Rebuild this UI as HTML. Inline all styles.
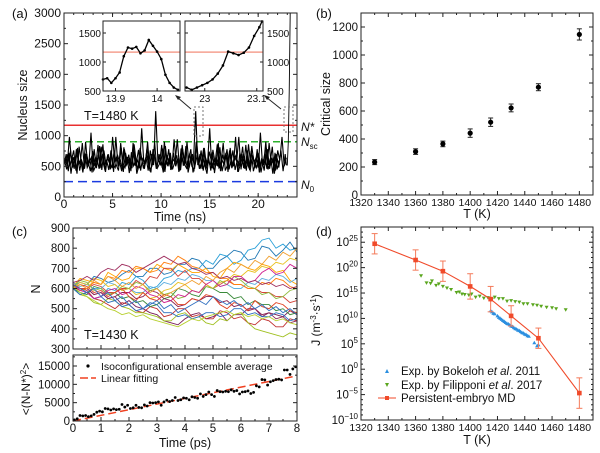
<!DOCTYPE html>
<html><head><meta charset="utf-8"><style>
body{margin:0;background:#fff}
svg{display:block;font-family:"Liberation Sans",sans-serif}
text{fill:#111}
</style></head><body>
<svg id="fig" width="600" height="453" viewBox="0 0 600 453" xmlns="http://www.w3.org/2000/svg"></svg>
<script>
// ---------- DATA ----------
const aTrace=[520,700,420,760,480,650,380,820,560,450,900,520,610,400,780,470,690,530,860,430,640,560,720,410,980,500,620,450,780,560,690,420,880,510,600,470,1120,540,650,430,760,520,880,460,700,590,400,830,510,660,470,940,560,620,440,780,530,900,480,660,580,1400,520,700,460,800,510,640,430,770,560,860,470,620,540,720,410,800,500,660,580,980,450,700,520,760,440,830,560,640,480,1050,510,700,460,880,540,620,430,760,600,980,500,640];
const aTraceB=[600,450,720,380,650,520,800,430,590,470,700,560,420,750,500,640,460,820,540,410,690,580,470,760,520,430,880,560,480,650,390,730,510,600,440,800,570,460,690,520,400,780,610,470,540,850,430,620,500,720,450,560,680,410,790,530,600,460,710,500,440,900,560,480,660,520,380,740,590,450,630,500,810,420,570,690,480,540,760,440,600,520,700,470,850,510,430,650,560,480,720,400,600,540,780,460,640,500,700,560];
const aTraceEnd=[520,900,1700,3000];
const aRefN=[1170,900,250];
const in1T=[13.87,13.88,13.89,13.9,13.91,13.92,13.93,13.94,13.95,13.96,13.97,13.98,13.99,14.0,14.01,14.02,14.03,14.04,14.05];
const in1N=[700,720,640,720,820,1100,1250,1230,1260,1150,1200,1380,1280,1180,1050,780,640,560,520];
const in2T=[22.965,22.975,22.985,22.995,23.005,23.015,23.025,23.035,23.045,23.055,23.065,23.075,23.085,23.095,23.105,23.11];
const in2N=[560,520,560,600,640,700,800,940,1180,1150,1120,1160,1250,1450,1600,1700];
const bT=[1330,1360,1380,1400,1415,1430,1450,1480];
const bN=[235,310,365,442,520,622,770,1147];
const bErr=[18,20,20,30,30,28,25,40];
const cTimes=[0,0.25,0.5,0.75,1,1.25,1.5,1.75,2,2.25,2.5,2.75,3,3.25,3.5,3.75,4,4.25,4.5,4.75,5,5.25,5.5,5.75,6,6.25,6.5,6.75,7,7.25,7.5,7.75,8];
const cS1=[610,630,620,660,650,630,640,670,690,660,660,700,700,670,680,720,720,750,740,700,700,740,760,790,780,740,750,810,800,760,790,830,780];
const cS2=[620,590,600,570,580,550,560,520,540,510,500,480,470,440,430,420,450,470,480,450,460,480,440,470,470,500,500,460,480,470,460,490,470];
const cS3=[600,570,580,550,560,600,590,630,620,660,640,600,610,650,660,690,680,700,700,740,720,770,760,720,740,790,800,840,850,800,820,790,800];
const cS4=[630,600,590,550,540,520,500,530,520,490,480,510,500,460,470,500,500,460,470,450,450,490,480,450,460,430,420,450,440,410,410,450,440];
const cS5=[610,650,640,630,620,680,660,640,650,700,700,680,720,700,690,720,700,680,680,700,660,650,700,730,720,700,690,720,710,680,690,640,620];
const cS6=[600,580,570,610,600,570,580,550,560,530,540,510,520,550,560,600,590,570,560,610,600,580,580,550,560,520,540,520,520,490,500,470,480];
const cS7=[620,600,600,620,610,580,580,600,600,640,620,660,650,700,700,660,690,650,650,620,600,620,640,620,620,600,600,580,580,560,560,530,540];
const cS8=[600,570,560,530,520,550,540,510,500,480,480,470,460,440,440,470,480,450,460,430,420,450,440,470,480,430,400,390,380,370,360,380,370];
const cS9=[630,610,620,600,600,630,620,590,600,580,580,610,600,630,620,650,640,670,660,640,640,610,620,600,600,630,620,650,640,670,660,630,650];
const cS10=[610,590,600,570,580,550,560,580,580,550,560,590,580,550,540,510,520,550,540,560,560,530,540,510,520,490,500,470,480,450,460,430,440];
const cS11=[600,630,620,650,640,610,620,590,600,570,580,550,560,590,600,630,620,590,580,620,600,630,640,670,660,690,680,710,700,730,720,750,740];
const cS12=[620,590,600,630,620,660,650,690,680,710,700,680,690,730,720,760,740,710,700,680,680,650,650,620,620,600,600,630,620,650,640,610,600];
const cS13=[600,570,580,550,560,530,540,510,520,490,500,530,520,480,480,460,470,450,460,480,480,460,470,500,500,470,480,460,460,480,470,440,450];
const cS14=[610,640,630,590,600,570,580,610,600,630,620,590,600,570,580,550,560,590,580,610,600,640,620,660,640,610,600,570,580,550,560,590,600];
const cS15=[620,590,580,550,560,590,600,570,580,610,600,570,560,530,540,570,560,590,580,620,640,610,620,660,660,630,640,680,700,670,680,720,700];
const cS16=[600,620,610,580,590,560,580,600,560,540,580,550,540,570,560,520,520,550,540,570,560,520,500,530,520,490,540,510,500,530,520,490,480];
const cS17=[610,580,560,540,520,500,490,470,480,460,470,450,440,430,420,410,430,450,440,460,470,480,490,470,480,460,470,450,460,440,450,430,420];
const cS18=[630,640,660,640,680,700,690,720,710,680,700,720,740,760,740,720,730,700,690,670,680,650,660,640,650,630,640,620,630,610,620,600,610];
const cS19=[600,620,600,640,620,660,640,610,630,600,620,580,600,560,580,600,620,640,620,660,640,680,700,680,720,700,740,720,760,740,780,760,800];
const cS20=[620,600,580,600,560,580,540,560,520,540,500,520,540,500,520,480,500,520,540,520,560,540,520,540,510,530,500,520,490,510,480,500,470];
const cSeries=[cS1,cS2,cS3,cS4,cS5,cS6,cS7,cS8,cS9,cS10,cS11,cS12,cS13,cS14,cS15,cS16,cS17,cS18,cS19,cS20];
const cColors=["#1f77b4","#7a1f5a","#2aa0d8","#c03030","#ffa500","#3a8a3a","#d4443a","#a0c020","#60b0e0","#8b2252","#e8c020","#ff7f0e","#2c6fbf","#8fbc3f","#d02090","#e04020","#b8d030","#a03060","#f0a030","#3070c0"];
const msdT=[0.05,0.15,0.25,0.35,0.45,0.55,0.65,0.75,0.85,0.95,1.05,1.15,1.25,1.35,1.45,1.55,1.65,1.75,1.85,1.95,2.05,2.15,2.25,2.35,2.45,2.55,2.65,2.75,2.85,2.95,3.05,3.15,3.25,3.35,3.45,3.55,3.65,3.75,3.85,3.95,4.05,4.15,4.25,4.35,4.45,4.55,4.65,4.75,4.85,4.95,5.05,5.15,5.25,5.35,5.45,5.55,5.65,5.75,5.85,5.95,6.05,6.15,6.25,6.35,6.45,6.55,6.65,6.75,6.85,6.95,7.05,7.15,7.25,7.35,7.45,7.55,7.65,7.75,7.85,7.95];
const msdV=[300,600,1500,1400,1500,1200,1400,1800,2400,2700,2500,3400,3300,3000,3300,3100,3200,4500,3800,4300,3400,3600,4300,3700,3600,4400,4100,5000,4900,5000,5200,4300,5200,5700,5300,5600,6400,5600,5800,6300,6200,5800,6600,6400,6200,7400,6700,7200,7900,7200,6700,8300,8000,7900,8100,8000,8500,8100,8300,7400,7900,8000,8200,7500,7800,9600,9300,11300,11200,9800,10700,11000,11300,11400,11200,13900,13900,12700,14200,14800];
const fitSlope=1540;
const mdT=[1330,1360,1380,1400,1415,1430,1450,1480];
const mdLogJ=[24.7,21.5,19.3,16.3,13.8,10.5,6.1,-4.7];
const mdErr=[2,2,2,2.5,2.5,2,2,3];
const filT=[1364,1368,1371,1372,1375,1377,1380,1383,1386,1390,1392,1394,1396,1399,1401,1404,1407,1410,1413,1416,1418,1421,1424,1427,1430,1433,1436,1439,1442,1446,1449,1452,1456,1460,1463,1470];
const filLogJ=[18.4,17.0,16.9,17.4,16.5,16.8,16.3,16.0,15.7,15.1,15.2,14.8,14.7,14.6,14.8,14.2,14.4,14.0,14.1,13.8,14.2,13.9,13.9,13.4,13.5,13.3,13.2,12.9,12.9,12.7,12.6,12.4,12.2,12.1,11.9,11.7];
const bokT=[1415,1416,1417,1418,1420,1421,1422,1423,1424,1425,1426,1427,1428,1429,1430,1431,1432,1433,1434,1435,1436,1437,1438,1439,1440,1441,1442,1443,1447,1449,1450];
const bokLogJ=[11.5,11.3,11.0,10.9,10.5,10.2,10.0,9.8,9.6,9.4,9.2,9.0,8.9,8.7,8.5,8.4,8.2,8.0,7.9,7.7,7.6,7.4,7.2,7.1,6.9,6.8,6.6,6.5,5.2,4.6,4.8];

// ---------- helpers ----------
const NS="http://www.w3.org/2000/svg";const svg=document.getElementById('fig');
function mk(tag,at,parent){const e=document.createElementNS(NS,tag);for(const k in at)e.setAttribute(k,at[k]);(parent||svg).appendChild(e);return e;}
function txt(s,x,y,size,anchor,parent){const t=mk('text',{x:x,y:y,'font-size':size,'text-anchor':anchor||'middle'},parent);t.textContent=s;return t;}
function lin(d0,d1,r0,r1){return v=>r0+(v-d0)/(d1-d0)*(r1-r0);}
function frame(x0,y0,x1,y1,name){const r=mk('rect',{x:x0,y:y0,width:x1-x0,height:y1-y0,fill:'none',stroke:'#222','stroke-width':1});}
function xticks(sx,vals,y0,y1,labels,size,minor,g){vals.forEach((v,i)=>{const x=sx(v);mk('line',{x1:x,x2:x,y1:y1,y2:y1-4,stroke:'#222'},g);mk('line',{x1:x,x2:x,y1:y0,y2:y0+4,stroke:'#222'},g);if(labels)txt(labels[i],x,y1+11,size||12,'middle',g);});(minor||[]).forEach(v=>{const x=sx(v);mk('line',{x1:x,x2:x,y1:y1,y2:y1-2,stroke:'#222'},g);mk('line',{x1:x,x2:x,y1:y0,y2:y0+2,stroke:'#222'},g);});}
function yticks(sy,vals,x0,x1,labels,size,minor,g,right){vals.forEach((v,i)=>{const y=sy(v);mk('line',{x1:x0,x2:x0+4,y1:y,y2:y,stroke:'#222'},g);mk('line',{x1:x1,x2:x1-4,y1:y,y2:y,stroke:'#222'},g);if(labels){if(right)txt(labels[i],x1+3,y+4,size||12,'start',g);else txt(labels[i],x0-3,y+4,size||12,'end',g);}});(minor||[]).forEach(v=>{const y=sy(v);mk('line',{x1:x0,x2:x0+2,y1:y,y2:y,stroke:'#222'},g);mk('line',{x1:x1,x2:x1-2,y1:y,y2:y,stroke:'#222'},g);});}
function range(a,b,s){const r=[];for(let v=a;v<=b+1e-9;v+=s)r.push(+v.toFixed(6));return r;}
function poly(xs,ys,sx,sy,at,g){return mk('polyline',Object.assign({points:xs.map((x,i)=>sx(x).toFixed(1)+','+sy(ys[i]).toFixed(1)).join(' '),fill:'none'},at),g);}

[["(a)",12,18],["(b)",316,18],["(c)",12,236],["(d)",316,236]].forEach(p=>{const t=txt(p[0],p[1],p[2],13,'start');});

// ---------- (a) ----------
{const g=mk('g',{});
const sx=lin(0,24,64,297),sy=lin(0,3000,197,13);
const refCol=["#e83030","#2cb02c","#1a3ae0"],dash=["","7,4","9,5"];
aRefN.forEach((n,i)=>{const l=mk('line',{x1:64,x2:297,y1:sy(n),y2:sy(n),stroke:refCol[i],'stroke-width':1.5,'stroke-dasharray':dash[i]},g);});
const n=aTrace.length;
const tt=aTrace.map((v,i)=>i*22.9/(n-1));
const layers=[[aTrace,0],[aTraceB,0.055],[aTrace.slice().reverse(),0.11],[aTraceB.slice().reverse(),0.165]];
layers.forEach((L,k)=>{const p=poly(tt.map(t=>Math.min(22.9,t+L[1])),L[0],sx,sy,{stroke:'#000','stroke-width':1.1},g);});
const tr=poly([22.9,23.0,23.1,23.2,23.3],[520].concat(aTraceEnd),sx,sy,{stroke:'#000','stroke-width':0.9},g);

frame(64,13,297,197,'panel-a-frame');
xticks(sx,[0,5,10,15,20],13,197,["0","5","10","15","20"],12,range(1,24,1),g);
yticks(sy,range(0,3000,500),64,297,["0","500","1000","1500","2000","2500","3000"],12,range(250,2750,500),g);
const xt=txt("Time (ns)",180,221,12.5);
const yt=txt("Nucleus size",0,0,12.5);yt.setAttribute('transform','translate(27,105) rotate(-90)');
txt("T=1480 K",84,120,12.5,'start',g);
const nl=[["N*"],["N","sc"],["N","0"]];
nl.forEach((nn,i)=>{const t=mk('text',{x:301,y:i==0?131:i==1?146:189,'font-size':12,'font-style':'italic'},g);t.textContent=nn[0];if(nn[1]){const s=mk('tspan',{'font-size':8,'font-style':'normal',dy:3},t);s.textContent=nn[1];}});
[[194,107,9,29],[284,107,9,25]].forEach(b=>{mk('rect',{x:b[0],y:b[1],width:b[2],height:b[3],fill:'none',stroke:'#777','stroke-dasharray':'2,2'},g);});
mk('line',{x1:191,y1:109,x2:177,y2:97,stroke:'#222'},g);mk('polygon',{points:'175,95 181,97 178,100',fill:'#222'},g);
mk('line',{x1:281,y1:109,x2:266,y2:97,stroke:'#222'},g);mk('polygon',{points:'264,95 270,97 267,100',fill:'#222'},g);
const isy=lin(500,1707,91,21);
const insets=[[103,180,13.87,14.055,in1T,in1N,[13.9,14],["13.9","14"],false],[185,263,22.962,23.112,in2T,in2N,[23,23.1],["23","23.1"],true]];
insets.forEach((I,k)=>{const ig=mk('g',{},g);
mk('rect',{x:I[0],y:21,width:I[1]-I[0],height:70,fill:'#fff'},ig);
const isx=lin(I[2],I[3],I[0],I[1]);
mk('line',{x1:I[0],x2:I[1],y1:isy(1170),y2:isy(1170),stroke:'#f5a090','stroke-width':1.5},ig);
poly(I[4],I[5],isx,isy,{stroke:'#000','stroke-width':1.3},ig);
I[4].forEach((t,j)=>mk('circle',{cx:isx(t),cy:isy(I[5][j]),r:1.3,fill:'#000'},ig));
mk('rect',{x:I[0],y:21,width:I[1]-I[0],height:70,fill:'none',stroke:'#222'},ig);
I[6].forEach((v,j)=>{const x=isx(v);mk('line',{x1:x,x2:x,y1:91,y2:88,stroke:'#222'},ig);txt(I[7][j],x,102,10,'middle',ig);});
[500,1000,1500].forEach(v=>{const y=isy(v);mk('line',{x1:I[0],x2:I[0]+3,y1:y,y2:y,stroke:'#222'},ig);mk('line',{x1:I[1],x2:I[1]-3,y1:y,y2:y,stroke:'#222'},ig);if(I[8])txt(String(v),I[1]+4,y+4,10,'start',ig);else txt(String(v),I[0]-2,y+4,10,'end',ig);});
});
}

// ---------- (b) ----------
{const g=mk('g',{});
const sx=lin(1320,1490,361,593),sy=lin(0,1300,195,13);
frame(361,13,593,195,'panel-b-frame');
const xv=range(1320,1480,20);
xticks(sx,xv,13,195,xv.map(String),10.5,range(1330,1490,20),g);
const yv=range(0,1200,200);
yticks(sy,yv,361,593,yv.map(String),11.5,range(100,1300,200),g);
bT.forEach((t,i)=>{const x=sx(t);const e=mk('g',{},g);
mk('line',{x1:x,x2:x,y1:sy(bN[i]-bErr[i]),y2:sy(bN[i]+bErr[i]),stroke:'#222'},e);
[bN[i]-bErr[i],bN[i]+bErr[i]].forEach(v=>mk('line',{x1:x-2.5,x2:x+2.5,y1:sy(v),y2:sy(v),stroke:'#222'},e));
mk('circle',{cx:x,cy:sy(bN[i]),r:2.6,fill:'#000'},e);});
const xt=txt("T (K)",477,218,12.5);
const yt=txt("Critical size",0,0,12.5);yt.setAttribute('transform','translate(330,104) rotate(-90)');
}

// ---------- (c) top ----------
{const g=mk('g',{});
const sx=lin(0,8,73,297),sy=lin(300,900,349,228);
cSeries.forEach((s,i)=>{const p=poly(cTimes,s,sx,sy,{stroke:cColors[i],'stroke-width':0.9},g);});
frame(73,228,297,349,'panel-c-top-frame');
xticks(sx,range(0,8,1),228,349,null,12,range(0.5,7.5,1),g);
const yv=range(300,900,100);
yticks(sy,yv,73,297,yv.map(String),11.5,range(350,850,100),g);
txt("T=1430 K",84,339,12.5,'start',g);
const yt=txt("N",0,0,12.5);yt.setAttribute('transform','translate(40,289) rotate(-90)');
}
// ---------- (c) bottom ----------
{const g=mk('g',{});
const sx=lin(0,8,73,297),sy=lin(0,18000,421,355);
const fl=mk('line',{x1:sx(0),y1:sy(0),x2:sx(8),y2:sy(fitSlope*8),stroke:'#f04020','stroke-width':1.5,'stroke-dasharray':'8,4'},g);
msdT.forEach((t,i)=>{const c=mk('circle',{cx:sx(t),cy:sy(msdV[i]),r:1.4,fill:'#000'},g);});
frame(73,355,297,421,'panel-c-bottom-frame');
const xv=range(0,8,1);
xticks(sx,xv,355,421,xv.map(String),11.5,range(0.5,7.5,1),g);
yticks(sy,[0,5000,10000,15000],73,297,["0","5000","10000","15000"],11.5,[2500,7500,12500,17500],g);
mk('circle',{cx:88,cy:366,r:1.6,fill:'#000'},g);txt("Isoconfigurational ensemble average",101,370,10.5,'start',g);
mk('line',{x1:80,x2:96,y1:378,y2:378,stroke:'#f04020','stroke-width':1.5,'stroke-dasharray':'8,3'},g);txt("Linear fitting",101,382,10.5,'start',g);
const xt=txt("Time (ps)",185,447,12.5);
const yt=mk('text',{'font-size':12,'text-anchor':'middle',transform:'translate(30,389) rotate(-90)'});yt.innerHTML='&lt;(N-N*)<tspan font-size="8" dy="-4">2</tspan><tspan dy="4">&gt;</tspan>';
}

// ---------- (d) ----------
{const g=mk('g',{});
const sx=lin(1320,1490,361,593),sy=lin(-10,28,420,227);
frame(361,227,593,420,'panel-d-frame');
const xv=range(1320,1480,20);
xticks(sx,xv,227,420,xv.map(String),10.5,range(1330,1490,20),g);
const dec=[-10,-5,0,5,10,15,20,25];
yticks(sy,dec,361,593,null,12,range(-9,27,1).filter(v=>v%5),g);
dec.forEach(d=>{const t=mk('text',{x:358,y:sy(d)+4,'font-size':11.5,'text-anchor':'end'},g);t.innerHTML='10<tspan font-size="8" dy="-5">'+(d<0?'−'+(-d):d)+'</tspan>';});
filT.forEach((t,i)=>{const x=sx(t),y=sy(filLogJ[i]);const p=mk('polygon',{points:`${x-2},${y-1.5} ${x+2},${y-1.5} ${x},${y+2}`,fill:'#5aa61e'},g);});
bokT.forEach((t,i)=>{const x=sx(t),y=sy(bokLogJ[i]);const p=mk('polygon',{points:`${x-2},${y+1.5} ${x+2},${y+1.5} ${x},${y-2}`,fill:'#2b8fe0'},g);});
const ml=poly(mdT,mdLogJ,sx,sy,{stroke:'#f04a2a','stroke-width':1.1},g);
mdT.forEach((t,i)=>{const x=sx(t);const e=mk('g',{},g);
mk('line',{x1:x,x2:x,y1:sy(mdLogJ[i]-mdErr[i]),y2:sy(mdLogJ[i]+mdErr[i]),stroke:'#f47a5a'},e);
[mdLogJ[i]-mdErr[i],mdLogJ[i]+mdErr[i]].forEach(v=>mk('line',{x1:x-3,x2:x+3,y1:sy(v),y2:sy(v),stroke:'#f47a5a'},e));
mk('rect',{x:x-2.3,y:sy(mdLogJ[i])-2.3,width:4.6,height:4.6,fill:'#f04a2a'},e);});
const lg=mk('g',{},g);
mk('polygon',{points:'385,373 389,373 387,369',fill:'#2b8fe0'},lg);
let t=mk('text',{x:401,y:375,'font-size':11.5},lg);t.innerHTML='Exp. by Bokeloh <tspan font-style="italic">et al</tspan>. 2011';
mk('polygon',{points:'385,383 389,383 387,387',fill:'#5aa61e'},lg);
t=mk('text',{x:401,y:389,'font-size':11.5},lg);t.innerHTML='Exp. by Filipponi <tspan font-style="italic">et al</tspan>. 2017';
mk('line',{x1:378,x2:396,y1:398,y2:398,stroke:'#f04a2a','stroke-width':1.1},lg);mk('rect',{x:385,y:396,width:4,height:4,fill:'#f04a2a'},lg);
txt("Persistent-embryo MD",401,402,11.5,'start',lg);
const xt=txt("T (K)",477,444,12.5);
const yt=mk('text',{'font-size':12,'text-anchor':'middle',transform:'translate(320,320) rotate(-90)'});yt.innerHTML='J (m<tspan font-size="8" dy="-4">-3</tspan><tspan dy="4">·s</tspan><tspan font-size="8" dy="-4">-1</tspan><tspan dy="4">)</tspan>';
}
</script>
</body></html>
